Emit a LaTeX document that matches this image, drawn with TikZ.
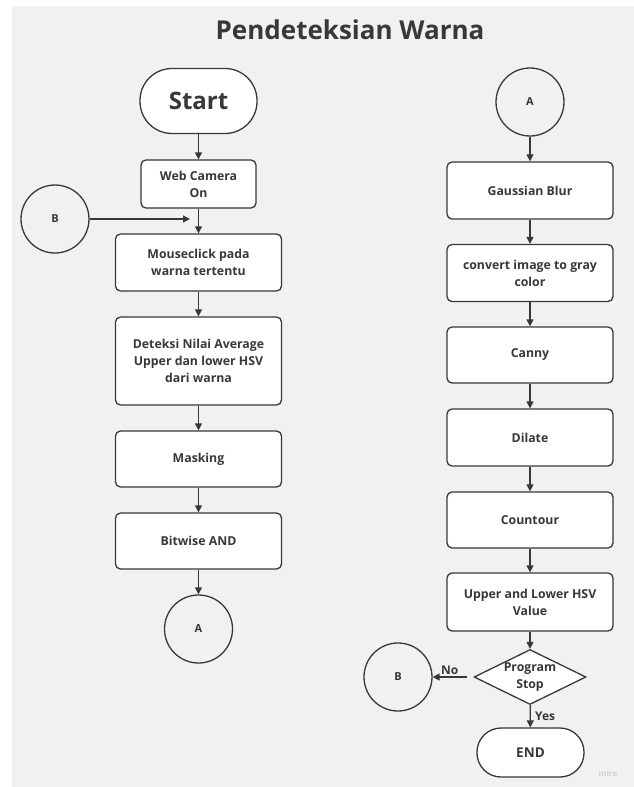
\documentclass[tikz,border=0pt]{standalone}
\usepackage{fontspec}
\setmainfont{Open Sans}
\usetikzlibrary{arrows.meta,shapes.geometric}
\definecolor{panel}{HTML}{F1F1F1}
\definecolor{ink}{HTML}{383838}
\begin{document}
\begin{tikzpicture}[
  x=1pt, y=-1pt, >={Triangle[width=7pt,length=7pt]},
  font=\bfseries\fontsize{12.3}{16.8}\selectfont, text=ink,
  box/.style={draw=ink, line width=1.3pt, rounded corners=5pt, fill=white,
              minimum width=166pt, align=center, inner sep=0pt},
  term/.style={draw=ink, line width=1.3pt, fill=white, inner sep=0pt},
  conn/.style={circle, draw=ink, line width=1.3pt, minimum size=68pt,
               inner sep=0pt, font=\bfseries\fontsize{11}{13}\selectfont},
  lbl/.style={font=\bfseries\fontsize{12}{14}\selectfont},
  arr/.style={->, draw=ink, line width=1.3pt}
]
\useasboundingbox (0,0) rectangle (634,787);
\fill[panel] (12,6) rectangle (634,787);

%% Title
\node[font=\bfseries\fontsize{26}{30}\selectfont] (title) at (350,30) {Pendeteksian Warna};

%% Left column
\node[term, rounded corners=32pt, minimum width=117pt, minimum height=65pt,
      font=\bfseries\fontsize{24}{28}\selectfont] (start) at (198.5,101) {Start};
\node[box, minimum width=115pt, minimum height=48pt] (cam) at (198.5,184) {Web Camera\\On};
\node[conn] (b1) at (55,219) {B};
\coordinate (bjoin) at (190,219);
\node[box, minimum height=57pt] (click) at (198.5,262.5) {Mouseclick pada\\warna tertentu};
\node[box, minimum height=88pt] (hsv) at (198.5,361) {Deteksi Nilai Average\\Upper dan lower HSV\\dari warna};
\node[box, minimum height=56pt] (mask) at (198.5,459) {Masking};
\node[box, minimum height=56pt] (bitand) at (198.5,541) {Bitwise AND};
\node[conn] (a1) at (198.5,629) {A};

\draw[arr] (start) -- (cam);
\draw[arr] (cam) -- (click);
\draw[arr] (b1) -- (bjoin);
\draw[arr] (click) -- (hsv);
\draw[arr] (hsv) -- (mask);
\draw[arr] (mask) -- (bitand);
\draw[arr] (bitand) -- (a1);

%% Right column
\node[conn] (a2) at (530,102) {A};
\node[box, minimum height=57pt] (blur) at (530,190.5) {Gaussian Blur};
\node[box, minimum height=57pt] (gray) at (530,273) {convert image to gray\\color};
\node[box, minimum height=56pt] (canny) at (530,355) {Canny};
\node[box, minimum height=57pt] (dilate) at (530,437.5) {Dilate};
\node[box, minimum height=56pt] (contour) at (530,520) {Countour};
\node[box, minimum height=58pt] (range) at (530,602) {Upper and Lower HSV\\Value};
\node[diamond, draw=ink, line width=1.3pt, fill=white, inner sep=0pt,
      minimum width=112pt, minimum height=55pt,
      label={[align=center]center:Program\\Stop}] (stop) at (530,677) {};
\node[term, rounded corners=24pt, minimum width=107pt, minimum height=49pt,
      font=\bfseries\fontsize{13.5}{16}\selectfont] (finish) at (530.5,752.5) {END};
\node[conn] (b2) at (398,677) {B};
\coordinate (nostart) at (467,677);

\draw[arr] (a2) -- (blur);
\draw[arr] (blur) -- (gray);
\draw[arr] (gray) -- (canny);
\draw[arr] (canny) -- (dilate);
\draw[arr] (dilate) -- (contour);
\draw[arr] (contour) -- (range);
\draw[arr] (range) -- (stop);
\draw[arr] (nostart) -- node[lbl, above=-2pt] {No} (b2);
\draw[arr] (stop) -- node[lbl, right=1pt] {Yes} (finish);

\node[font=\bfseries\fontsize{8}{9}\selectfont, text=black!18] (miro) at (608,773) {miro};
\end{tikzpicture}
\end{document}
